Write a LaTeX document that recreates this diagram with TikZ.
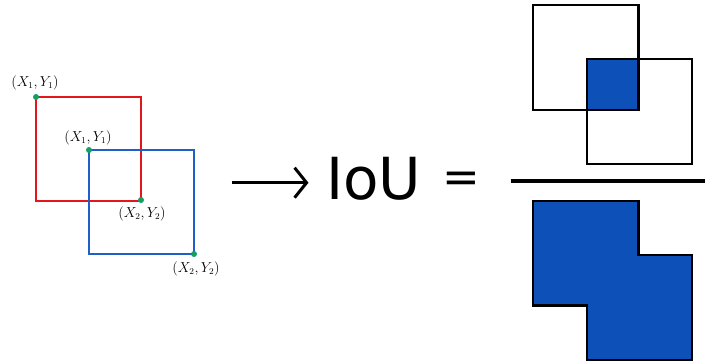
\documentclass[tikz,border=0pt]{standalone}
\usepackage{fontspec}
\newfontfamily\dejavu{DejaVu Sans}
\usetikzlibrary{arrows.meta}
\definecolor{boxred}{HTML}{E3161C}
\definecolor{boxblue}{HTML}{1E5FC8}
\definecolor{dotgreen}{HTML}{12A064}
\definecolor{fillblue}{HTML}{0D50B8}
\tikzset{
  redbox/.style={draw=boxred, line width=2.4pt},
  bluebox/.style={draw=boxblue, line width=2.4pt},
  corner/.style={circle, fill=dotgreen, inner sep=0pt, minimum size=6pt},
  coordlabel/.style={inner sep=0pt, font=\fontsize{13.5}{15}\selectfont},
  blackbox/.style={draw=black, line width=2.4pt},
  unionshape/.style={draw=black, line width=2.4pt, fill=fillblue},
  bigtext/.style={inner sep=0pt, font=\dejavu\fontsize{58}{58}\selectfont},
}
\begin{document}
\begin{tikzpicture}[x=1pt, y=-1pt]
\useasboundingbox (0,0) rectangle (705,363);
% left: two boxes
\draw[redbox] (36,97) rectangle (141,201);
\draw[bluebox] (89,150) rectangle (194,254);
\node[corner] (r1) at (36,97) {};
\node[corner] (r2) at (141,200) {};
\node[corner] (b1) at (89,150) {};
\node[corner] (b2) at (194,254) {};
\node[coordlabel] (lr1) at (35,83) {$(X_1,Y_1)$};
\node[coordlabel] (lb1) at (88,137.5) {$(X_1,Y_1)$};
\node[coordlabel] (lr2) at (142,214) {$(X_2,Y_2)$};
\node[coordlabel] (lb2) at (196,269) {$(X_2,Y_2)$};
% arrow
\coordinate (a0) at (231.5,182.7);
\coordinate (a1) at (308.5,182.7);
\draw[line width=3pt, -{Straight Barb[length=12pt, width=30pt, line width=3pt]}] (a0) -- (a1);
% IoU =
\node[bigtext, anchor=base west] (iou) at (326,200) {IoU};
\node[inner sep=0pt, font=\dejavu\fontsize{45}{45}\selectfont] (eq) at (461,182.7) {=};
% right: numerator
\fill[fillblue] (586.7,59.3) rectangle (638.3,110);
\draw[blackbox] (532.7,5) rectangle (638.3,110);
\draw[blackbox] (586.7,59.3) rectangle (691.7,164);
% fraction bar
\coordinate (f0) at (510.7,180.7);
\coordinate (f1) at (705,180.7);
\draw[line width=4pt] (f0) -- (f1);
% denominator: union
\draw[unionshape] (532.7,201) -- (638.3,201) -- (638.3,255) -- (691.7,255) -- (691.7,360) -- (586.7,360) -- (586.7,305.7) -- (532.7,305.7) -- cycle;
\end{tikzpicture}
\end{document}
